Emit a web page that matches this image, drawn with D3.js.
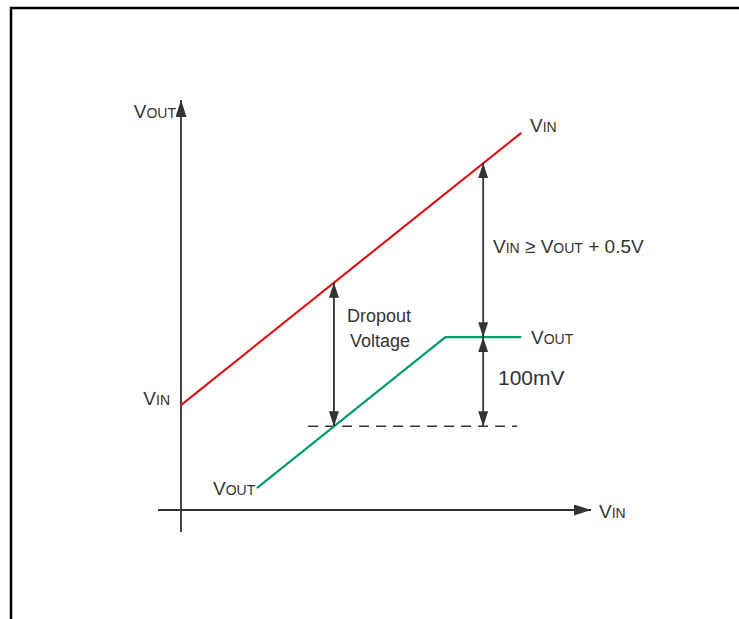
<!DOCTYPE html>
<html>
<head>
<meta charset="utf-8">
<script src="https://cdn.jsdelivr.net/npm/d3@7"></script>
<style>
  html, body { margin: 0; padding: 0; background: #fff; }
  svg { display: block; }
  text { font-family: "Liberation Sans", Arial, sans-serif; fill: #333; }
</style>
</head>
<body>
<svg id="chart" width="739" height="619"></svg>
<script>
// input voltage on x, voltage on y (arbitrary units)
const vinLine = [[0, 3.2], [8.3, 11.5]]
const voutLine = [[1.85, 0.67], [6.45, 5.27], [8.3, 5.27]]
const dropoutLevel = 2.55          // VOUT minus 100mV
const dashRange = [3.1, 8.2]
const headroomX = 7.37             // where VIN >= VOUT + 0.5V is marked

const RED = '#d9151b'
const GREEN = '#009e65'
const INK = '#333'

const svg = d3.select('#chart')

// frame
svg.append('rect')
  .attr('x', 11).attr('y', 8)
  .attr('width', 800).attr('height', 700)
  .attr('fill', 'none').attr('stroke', '#000').attr('stroke-width', 2.5)

const x = d3.scaleLinear().domain([0, 10]).range([181, 591])
const y = d3.scaleLinear().domain([0, 12.5]).range([510, 100])

const defs = svg.append('defs')
const marker = (id, w, l) => defs.append('marker')
    .attr('id', id)
    .attr('viewBox', `0 ${-w / 2} ${l} ${w}`)
    .attr('refX', l).attr('refY', 0)
    .attr('markerWidth', l).attr('markerHeight', w)
    .attr('markerUnits', 'userSpaceOnUse')
    .attr('orient', 'auto-start-reverse')
  .append('path')
    .attr('d', `M0,${-w / 2}L${l},0L0,${w / 2}Z`)
    .attr('fill', INK)
marker('axisHead', 11, 17)
marker('dimHead', 10, 15)

// axes
svg.append('line')
  .attr('x1', x(0)).attr('x2', x(0))
  .attr('y1', y(-0.67)).attr('y2', y(12.5))
  .attr('stroke', INK).attr('stroke-width', 1.8)
  .attr('marker-end', 'url(#axisHead)')
svg.append('line')
  .attr('x1', x(-0.56)).attr('x2', x(10))
  .attr('y1', y(0)).attr('y2', y(0))
  .attr('stroke', INK).attr('stroke-width', 1.8)
  .attr('marker-end', 'url(#axisHead)')

const line = d3.line().x(d => x(d[0])).y(d => y(d[1]))

// dashed reference level
svg.append('line')
  .attr('x1', x(dashRange[0])).attr('x2', x(dashRange[1]))
  .attr('y1', y(dropoutLevel)).attr('y2', y(dropoutLevel))
  .attr('stroke', INK).attr('stroke-width', 1.5)
  .attr('stroke-dasharray', '10,7')

svg.append('path').datum(vinLine)
  .attr('d', line).attr('fill', 'none')
  .attr('stroke', RED).attr('stroke-width', 2.2)
svg.append('path').datum(voutLine)
  .attr('d', line).attr('fill', 'none')
  .attr('stroke', GREEN).attr('stroke-width', 2.2)

// helpers reading the curves
const vinAt = xv => vinLine[0][1] + (xv - vinLine[0][0]) * (vinLine[1][1] - vinLine[0][1]) / (vinLine[1][0] - vinLine[0][0])
const [p0, p1] = voutLine
const dropoutX = p0[0] + (dropoutLevel - p0[1]) * (p1[0] - p0[0]) / (p1[1] - p0[1])
const voutReg = voutLine[2][1]

const dim = (xv, ya, yb) => svg.append('line')
  .attr('x1', x(xv)).attr('x2', x(xv))
  .attr('y1', y(ya)).attr('y2', y(yb))
  .attr('stroke', INK).attr('stroke-width', 1.8)
  .attr('marker-start', 'url(#dimHead)')
  .attr('marker-end', 'url(#dimHead)')

dim(dropoutX, vinAt(dropoutX), dropoutLevel)
dim(headroomX, vinAt(headroomX), voutReg)
dim(headroomX, voutReg, dropoutLevel)

// labels: V with small-caps subscript
function vLabel(px, py, sub, anchor, rest) {
  const t = svg.append('text')
    .attr('x', px).attr('y', py)
    .attr('text-anchor', anchor || 'start')
  t.append('tspan').attr('font-size', 19).text('V')
  t.append('tspan').attr('font-size', 14).text(sub)
  if (rest) rest(t)
  return t
}

vLabel(176, 118, 'OUT', 'end')
vLabel(170, 405, 'IN', 'end')
vLabel(213, 495, 'OUT')
vLabel(530, 132, 'IN')
vLabel(599, 518, 'IN')
vLabel(531, 344, 'OUT')
vLabel(493, 253, 'IN', 'start', t => {
  t.append('tspan').attr('font-size', 19).text(' \u2265 V')
  t.append('tspan').attr('font-size', 14).text('OUT')
  t.append('tspan').attr('font-size', 19).text(' + 0.5V')
})

svg.append('text').attr('x', 379).attr('y', 322)
  .attr('text-anchor', 'middle').attr('font-size', 18).text('Dropout')
svg.append('text').attr('x', 380).attr('y', 347)
  .attr('text-anchor', 'middle').attr('font-size', 18).text('Voltage')
svg.append('text').attr('x', 498).attr('y', 385)
  .attr('font-size', 21).text('100mV')
</script>
</body>
</html>
